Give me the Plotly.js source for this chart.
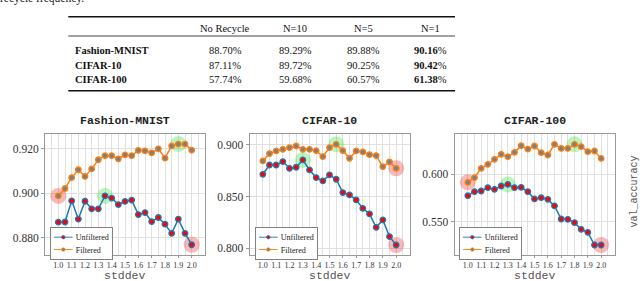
<!DOCTYPE html>
<html>
<head>
<meta charset="utf-8">
<script src="https://cdn.plot.ly/plotly-3.0.1.min.js"></script>
<style>
html,body{margin:0;padding:0;background:#fff;}
#chart{width:640px;height:281px;}
</style>
</head>
<body>
<div id="chart"></div>
<script>
// ---------------- data ----------------
const stddev = [1.0,1.05,1.1,1.15,1.2,1.25,1.3,1.35,1.4,1.45,1.5,1.55,1.6,1.65,1.7,1.75,1.8,1.85,1.9,1.95,2.0];
const xTickLabels = ['1.0','1.1','1.2','1.3','1.4','1.5','1.6','1.7','1.8','1.9','2.0'];

const fmUnfiltered = [0.8870,0.8871,0.8966,0.8884,0.8964,0.8930,0.8930,0.8988,0.8978,0.8949,0.8963,0.8969,0.8904,0.8913,0.8873,0.8891,0.8861,0.8820,0.8884,0.8820,0.8769];
const fmFiltered   = [0.8988,0.9021,0.9070,0.9105,0.9075,0.9109,0.9150,0.9168,0.9168,0.9154,0.9172,0.9168,0.9192,0.9190,0.9181,0.9199,0.9157,0.9212,0.9220,0.9220,0.9193];

const c10Unfiltered = [0.8716,0.8806,0.8806,0.8839,0.8774,0.8784,0.8855,0.8758,0.8684,0.8652,0.8710,0.8668,0.8539,0.8516,0.8468,0.8387,0.8332,0.8203,0.8274,0.8113,0.8032];
const c10Filtered   = [0.8845,0.8916,0.8942,0.8958,0.8974,0.8990,0.8958,0.8958,0.8945,0.8887,0.8974,0.9006,0.8945,0.8871,0.8942,0.8932,0.8906,0.8897,0.8790,0.8835,0.8774];

const c100Unfiltered = [0.5774,0.5816,0.5823,0.5858,0.5840,0.5875,0.5892,0.5858,0.5861,0.5816,0.5740,0.5753,0.5736,0.5667,0.5531,0.5528,0.5493,0.5424,0.5392,0.5260,0.5260];
const c100Filtered   = [0.5913,0.5962,0.6059,0.6101,0.6153,0.6205,0.6181,0.6226,0.6295,0.6260,0.6292,0.6222,0.6198,0.6309,0.6267,0.6267,0.6309,0.6285,0.6233,0.6240,0.6163];

// highlighted points: [series, index]
const fmRed   = [['f',0],['u',20]];
const fmGreen = [['u',7],['f',18]];
const c10Red   = [['f',20],['u',20]];
const c10Green = [['u',6],['f',11]];
const c100Red   = [['f',0],['u',20]];
const c100Green = [['u',6],['f',16]];

const datasetNames = ['Fashion-MNIST','CIFAR-10','CIFAR-100'];
const xTitle = 'stddev';
const yTitle = 'val_accuracy';

// table
const tableHeader = ['No Recycle','N=10','N=5','N=1'];
const tableRows = ['Fashion-MNIST','CIFAR-10','CIFAR-100'];
const noRecycle = [88.70,87.11,57.74];
const n10 = [89.29,89.72,59.68];
const n5  = [89.88,90.25,60.57];
const n1  = [90.16,90.42,61.38];
const captionText = 'recycle frequency.';

// ---------------- layout helpers ----------------
const W = 640, H = 281;
const px = x => x / W;
const py = y => 1 - y / H;

const serif = 'Liberation Serif, Times New Roman, serif';
const mono = 'Liberation Mono, DejaVu Sans Mono, monospace';
const BLUE = '#1f77b4', ORANGE = '#ff7f0e';

const charts = [
  {unf: fmUnfiltered, fil: fmFiltered, red: fmRed, green: fmGreen, left: 45, range: [0.8723, 0.9264], dtick: 0.02, tick0: 0.88, legLeft: 50},
  {unf: c10Unfiltered, fil: c10Filtered, red: c10Red, green: c10Green, left: 249.5, range: [0.7935, 0.9103], dtick: 0.05, tick0: 0.80, legLeft: 255},
  {unf: c100Unfiltered, fil: c100Filtered, red: c100Red, green: c100Green, left: 454.5, range: [0.5156, 0.6414], dtick: 0.05, tick0: 0.55, legLeft: 459}
];
const plotTop = 134.3, plotBottom = 255, plotWidth = 160;

const traces = [];
const layout = {
  width: W, height: H,
  margin: {l: 0, r: 0, t: 0, b: 0},
  paper_bgcolor: '#fff', plot_bgcolor: '#fff',
  showlegend: true,
  annotations: [], shapes: []
};

charts.forEach((c, k) => {
  const sfx = k === 0 ? '' : String(k + 1);
  const xa = 'x' + sfx, ya = 'y' + sfx;
  const leg = 'legend' + sfx;
  const pick = (list) => ({
    x: list.map(p => stddev[p[1]]),
    y: list.map(p => (p[0] === 'u' ? c.unf : c.fil)[p[1]])
  });
  const r = pick(c.red), g = pick(c.green);
  traces.push({x: r.x, y: r.y, xaxis: xa, yaxis: ya, mode: 'markers', type: 'scatter',
    marker: {size: 16, color: 'rgba(240,70,70,0.38)'}, showlegend: false, hoverinfo: 'skip', legend: leg});
  traces.push({x: g.x, y: g.y, xaxis: xa, yaxis: ya, mode: 'markers', type: 'scatter',
    marker: {size: 16, color: 'rgba(60,225,60,0.34)'}, showlegend: false, hoverinfo: 'skip', legend: leg});
  traces.push({x: stddev, y: c.unf, xaxis: xa, yaxis: ya, type: 'scatter', mode: 'lines+markers',
    name: 'Unfiltered', legend: leg,
    line: {color: BLUE, width: 1.5},
    marker: {size: 5.5, color: '#ff0000', line: {color: BLUE, width: 1.3}}});
  traces.push({x: stddev, y: c.fil, xaxis: xa, yaxis: ya, type: 'scatter', mode: 'lines+markers',
    name: 'Filtered', legend: leg,
    line: {color: ORANGE, width: 1.5},
    marker: {size: 5.5, color: '#808080', line: {color: ORANGE, width: 1.3}}});

  layout['xaxis' + sfx] = {
    domain: [px(c.left), px(c.left + plotWidth)], anchor: ya,
    range: [0.9, 2.1], tickmode: 'array',
    tickvals: xTickLabels.map(Number), ticktext: xTickLabels,
    tickfont: {family: serif, size: 8, color: '#333'},
    showgrid: true, gridcolor: '#e0e0e0', gridwidth: 1,
    minor: {dtick: 0.05, tick0: 1.0, showgrid: true, gridcolor: '#e0e0e0', gridwidth: 1},
    showline: true, mirror: true, linecolor: '#999', linewidth: 1,
    ticks: 'outside', ticklen: 2, tickcolor: '#999',
    zeroline: false
  };
  layout['yaxis' + sfx] = {
    domain: [py(plotBottom), py(plotTop)], anchor: xa,
    range: c.range, dtick: c.dtick, tick0: c.tick0, tickformat: '.3f',
    tickfont: {family: serif, size: 11.5, color: '#333'},
    showgrid: true, gridcolor: '#e0e0e0', gridwidth: 1,
    showline: true, mirror: true, linecolor: '#999', linewidth: 1,
    ticks: 'outside', ticklen: 3, tickcolor: '#999',
    zeroline: false
  };
  layout[leg] = {
    x: px(c.legLeft), y: py(227), xanchor: 'left', yanchor: 'top',
    bgcolor: '#fff', bordercolor: '#777', borderwidth: 1.5,
    font: {family: serif, size: 13, color: '#222'},
    tracegroupgap: 0, itemwidth: 30, traceorder: 'normal'
  };
  layout.annotations.push({
    text: '<b>' + datasetNames[k] + '</b>', xref: 'paper', yref: 'paper',
    x: px(c.left + plotWidth / 2), y: py(120.7), xanchor: 'center', yanchor: 'middle',
    showarrow: false, font: {family: mono, size: 11.5, color: '#222'}
  });
  // x-axis title (placed as annotation so it can sit at the very bottom edge)
  layout.annotations.push({
    text: xTitle, xref: 'paper', yref: 'paper',
    x: px(c.left + plotWidth / 2), y: py(275.5), xanchor: 'center', yanchor: 'middle',
    showarrow: false, font: {family: mono, size: 11.5, color: '#555'}
  });
});

layout.annotations.push({
  text: yTitle, xref: 'paper', yref: 'paper', x: px(633.5), y: py(192),
  xanchor: 'center', yanchor: 'middle', textangle: -90, showarrow: false,
  font: {family: mono, size: 10, color: '#555'}
});

// caption fragment (cut by the top edge, as in the reference)
layout.annotations.push({
  text: captionText, xref: 'paper', yref: 'paper', x: px(-2), y: py(7),
  xanchor: 'left', yanchor: 'bottom', showarrow: false,
  font: {family: serif, size: 11.5, color: '#222'}
});

// table
const colX = [225, 295, 363, 430];
const rowY = [50.7, 65.3, 80];
const tFont = {family: serif, size: 10.5, color: '#111'};
tableHeader.forEach((h, j) => layout.annotations.push({
  text: h, xref: 'paper', yref: 'paper', x: px(colX[j]), y: py(28.3),
  xanchor: 'center', yanchor: 'middle', showarrow: false, font: tFont
}));
const tableCols = [noRecycle, n10, n5, n1];
tableRows.forEach((name, i) => {
  layout.annotations.push({
    text: '<b>' + name + '</b>', xref: 'paper', yref: 'paper', x: px(73), y: py(rowY[i]),
    xanchor: 'left', yanchor: 'middle', showarrow: false, font: tFont
  });
  tableCols.forEach((col, j) => {
    const v = col[i].toFixed(2);
    const txt = j === tableCols.length - 1 ? '<b>' + v + '</b>%' : v + '%';
    layout.annotations.push({
      text: txt, xref: 'paper', yref: 'paper', x: px(colX[j]), y: py(rowY[i]),
      xanchor: 'center', yanchor: 'middle', showarrow: false, font: tFont
    });
  });
});
[[16.7, 1.4], [36, 0.8], [90.7, 1.4]].forEach(([y, w]) => layout.shapes.push({
  type: 'line', xref: 'paper', yref: 'paper', x0: px(68.3), x1: px(455), y0: py(y), y1: py(y),
  line: {color: '#111', width: w}
}));

const gd = document.getElementById('chart');
function shrinkLegends() {
  gd.querySelectorAll('g.infolayer > g[class^="legend"]').forEach(g => {
    const t = (g.getAttribute('transform') || '').replace(/scale\([^)]*\)/g, '').trim();
    g.setAttribute('transform', t + ' scale(0.62)');
  });
}
Plotly.newPlot(gd, traces, layout, {staticPlot: true, displayModeBar: false}).then(() => {
  shrinkLegends();
  gd.on && gd.on('plotly_afterplot', shrinkLegends);
});
</script>
</body>
</html>
